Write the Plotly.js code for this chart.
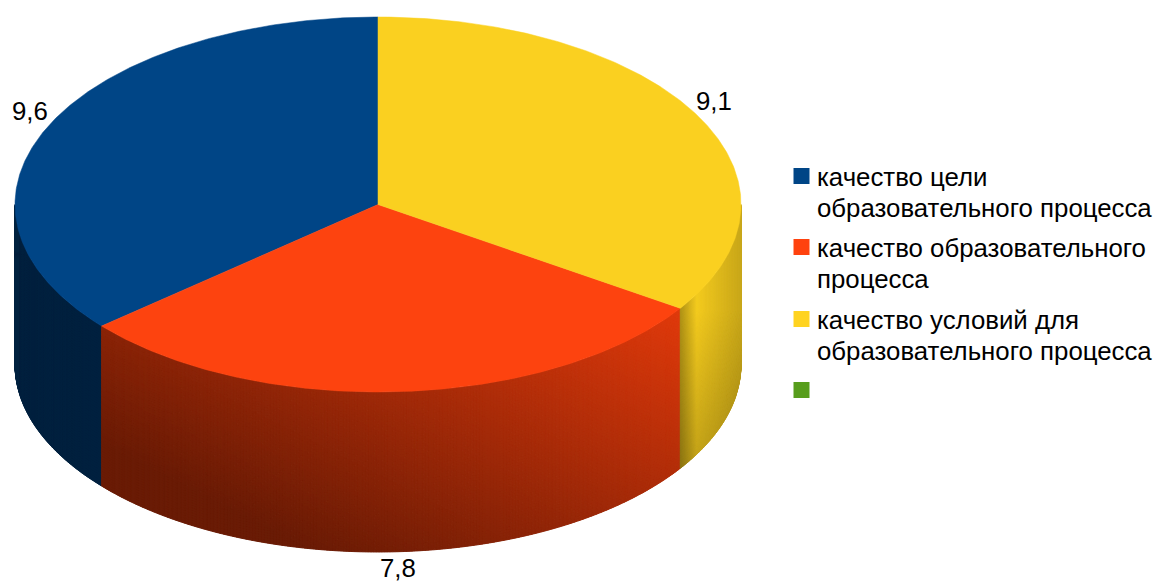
<!DOCTYPE html>
<html>
<head>
<meta charset="utf-8">
<script src="https://cdn.plot.ly/plotly-3.0.1.min.js"></script>
<style>html,body{margin:0;padding:0;background:#fff}#chart{width:1156px;height:583px}</style>
</head>
<body>
<div id="chart"></div>
<script>
// Data
const categories = ["качество цели<br>образовательного процесса",
                    "качество образовательного<br>процесса",
                    "качество условий для<br>образовательного процесса",
                    ""];
const values = [9.6, 7.8, 9.1];
const valueLabels = ["9,6", "7,8", "9,1"];
const colors = ["#004586", "#ff420e", "#ffd320", "#579d1c"];
const topColors = ["#004586", "#fd430f", "#fad020"];

// Geometry of the drawing
const W = 1156, H = 583;
const cx = 378, cy = 204.5, rx = 363, ry = 187.5, depth = 160;
const total = values.reduce((a, b) => a + b, 0);
const FONT = "Liberation Sans, Arial, sans-serif";
const FS = 25.8;

// angle a: measured counter-clockwise from 12 o'clock
const px = a => cx - rx * Math.sin(a);
const py = a => cy - ry * Math.cos(a);
const clamp = (v, lo, hi) => Math.max(lo, Math.min(hi, v));

function shade(i, x, y) {
  if (i === 0) return [0, 33, 63];
  if (i === 1) {
    const b = Math.round(clamp(224 - 0.277 * (y - 310) + 0.14 * (x - 680), 106, 226));
    return [b, Math.round(b * 0.26), Math.round(b * 0.055)];
  }
  const f = x < 697 ? 0.69 + (x - 680) / 17 * 0.28 : 0.97 - (x - 697) / 44 * 0.17;
  const g = 1 - 0.2 * clamp(y - 310, 0, 160) / 150;
  const k = Math.round(f * g * 160) / 160;
  return [Math.round(250 * k), Math.round(208 * k), Math.round(32 * k)];
}

// slices: start/end angles
let acc = 0;
const slices = values.map((v, i) => {
  const s = acc / total * 2 * Math.PI;
  acc += v;
  return {i, s, e: acc / total * 2 * Math.PI};
});

const traces = [];

// side walls (only the front half, angles between 90 and 270 degrees)
const stepA = Math.PI / 720, rows = 64;
slices.forEach(sl => {
  const a0 = Math.max(sl.s, Math.PI / 2), a1 = Math.min(sl.e, 1.5 * Math.PI);
  if (a1 <= a0) return;
  const wallBins = new Map();
  const n = Math.ceil((a1 - a0) / stepA);
  for (let c = 0; c < n; c++) {
    const aL = a0 + (a1 - a0) * c / n, aR = a0 + (a1 - a0) * (c + 1) / n;
    for (let r = 0; r < rows; r++) {
      const d0 = depth * r / rows, d1 = depth * (r + 1) / rows;
      const xs = [px(aL), px(aR), px(aR), px(aL), px(aL)];
      const ys = [py(aL) + d0, py(aR) + d0, py(aR) + d1, py(aL) + d1, py(aL) + d0];
      const rgb = shade(sl.i, (xs[0] + xs[1]) / 2, (ys[0] + ys[2]) / 2);
      const key = rgb.join(",");
      if (!wallBins.has(key)) wallBins.set(key, {rgb, x: [], y: []});
      const b = wallBins.get(key);
      b.x.push(...xs, null);
      b.y.push(...ys, null);
    }
  }
  // darkest first, so that every band overlaps the next in one direction
  [...wallBins.values()]
    .sort((p, q) => (p.rgb[0] + p.rgb[1] + p.rgb[2]) - (q.rgb[0] + q.rgb[1] + q.rgb[2]))
    .forEach(b => {
      const col = `rgb(${b.rgb.join(",")})`;
      traces.push({
        type: "scatter", mode: "lines", x: b.x, y: b.y, fill: "toself", fillcolor: col,
        line: {color: col, width: 1}, hoverinfo: "skip", showlegend: false
      });
    });
});

// top faces
slices.forEach(sl => {
  const xs = [cx], ys = [cy];
  const n = Math.ceil((sl.e - sl.s) / (Math.PI / 360));
  for (let k = 0; k <= n; k++) {
    const a = sl.s + (sl.e - sl.s) * k / n;
    xs.push(px(a)); ys.push(py(a));
  }
  xs.push(cx); ys.push(cy);
  traces.push({
    type: "scatter", mode: "lines", x: xs, y: ys, fill: "toself", fillcolor: topColors[sl.i],
    line: {color: topColors[sl.i], width: 0.5}, name: categories[sl.i],
    hoverinfo: "skip", showlegend: false
  });
});

// legend swatches
const legendX = 801.5, legendY = [176, 247, 319, 390], legendTextX = 817, lineGap = 31;
traces.push({
  type: "scatter", mode: "markers", x: legendY.map(() => legendX), y: legendY,
  marker: {symbol: "square", size: 16, color: colors, line: {width: 0}},
  hoverinfo: "skip", showlegend: false
});

const labelPos = [[30, 111], [398, 568], [714, 101]];
const annotations = valueLabels.map((t, i) => ({
  x: labelPos[i][0], y: labelPos[i][1], xref: "x", yref: "y", text: t, showarrow: false,
  xanchor: "center", yanchor: "middle", font: {family: FONT, size: FS, color: "#000"}
}));
categories.forEach((t, i) => {
  if (!t) return;
  t.split("<br>").forEach((line, j) => {
    annotations.push({
      x: legendTextX, y: legendY[i] + 1 + j * lineGap, xref: "x", yref: "y", text: line, showarrow: false,
      xanchor: "left", yanchor: "middle", align: "left", borderpad: 0, borderwidth: 0,
      font: {family: FONT, size: FS, color: "#000"}
    });
  });
});

const layout = {
  width: W, height: H, margin: {l: 0, r: 0, t: 0, b: 0},
  paper_bgcolor: "#fff", plot_bgcolor: "#fff", showlegend: false,
  xaxis: {range: [0, W], visible: false, fixedrange: true},
  yaxis: {range: [H, 0], visible: false, fixedrange: true},
  annotations
};
Plotly.newPlot("chart", traces, layout, {staticPlot: true, displayModeBar: false});
</script>
</body>
</html>
